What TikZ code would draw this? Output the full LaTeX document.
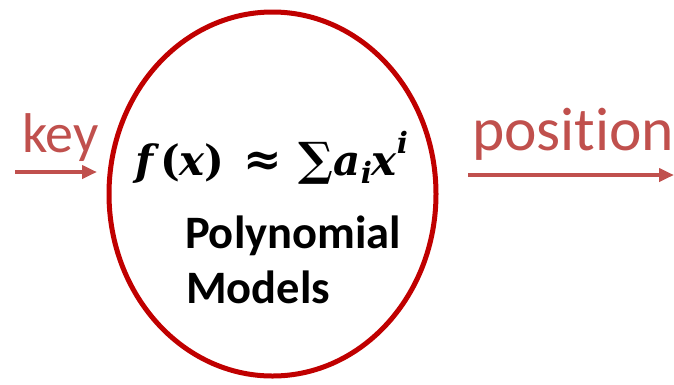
\documentclass[tikz,border=0pt]{standalone}
\usepackage{amsmath}
\usepackage[no-math]{fontspec}
\setmainfont{Carlito}[Ligatures=NoCommon]
\newfontfamily\fserif{DejaVu Serif}
\usetikzlibrary{arrows.meta,shapes.geometric}
\definecolor{darkred}{HTML}{C00000}
\definecolor{softred}{HTML}{C0504D}
\newcommand{\itv}[1]{{\itshape #1}}
\tikzset{
  lbl/.style={anchor=base west,inner sep=0pt,outer sep=0pt},
  redtxt/.style={lbl,text=softred},
  inner/.style={lbl,text=black,font=\bfseries\fontsize{46.5}{48}\selectfont},
  flow/.style={draw=softred,line width=4pt,-{Triangle[length=15pt,width=13pt]}}
}
\begin{document}
\begin{tikzpicture}[x=1pt,y=-1pt]
\useasboundingbox (0,0) rectangle (674,384);
\node[draw=darkred,line width=5pt,ellipse,minimum width=327pt,minimum height=364pt,inner sep=0pt] (model) at (272.5,194) {};
\node[redtxt,font=\fontsize{56}{58}\selectfont] (key) at (22,152) {key};
\node[redtxt,font=\fontsize{61.5}{63}\selectfont] (pos) at (472,150) {position};
\node[lbl] (formula) at (135,175) {\resizebox{273pt}{!}{\fontsize{10}{12}\fserif\bfseries
  \itv{f}\,(\itv{x})\hspace{0.45em}{\fontsize{11}{12}\selectfont ≈}\hspace{0.4em}{\fontsize{11}{12}\selectfont ∑}\itv{a}\raisebox{-0.4ex}{\fontsize{7}{8}\selectfont\itv{i}}\itv{x}\raisebox{1ex}{\fontsize{7}{8}\selectfont\itv{i}}}};
\node[inner] (poly) at (185,248) {Polynomial};
\node[inner] (models) at (186,303) {Models};
\coordinate (k1) at (15,172);
\coordinate (k2) at (97,172);
\coordinate (p1) at (468,175);
\coordinate (p2) at (674,175);
\draw[flow] (k1) -- (k2);
\draw[flow] (p1) -- (p2);
\end{tikzpicture}
\end{document}
